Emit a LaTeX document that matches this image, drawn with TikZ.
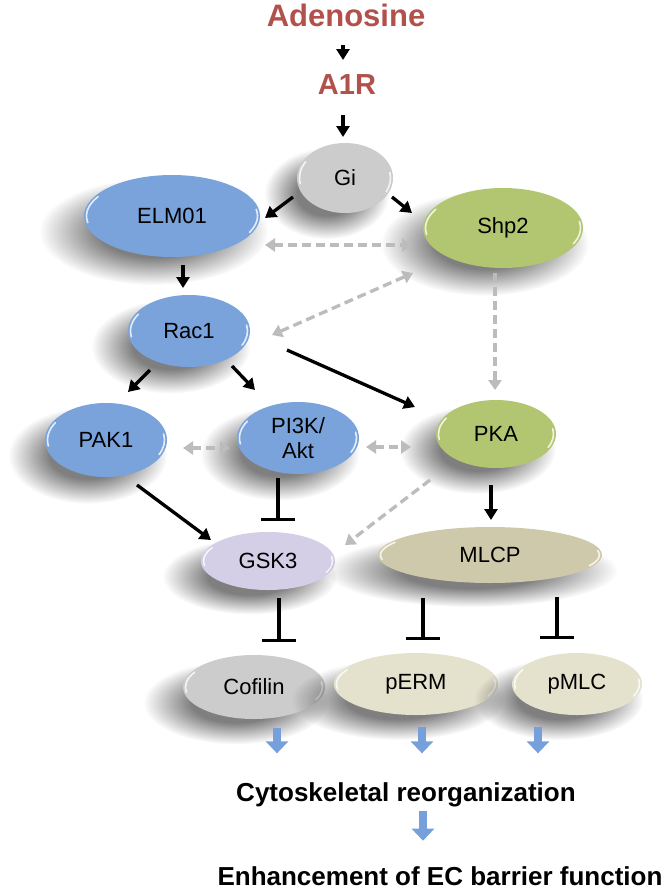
\documentclass[tikz,border=0pt]{standalone}
\usepackage{fontspec}
\setmainfont{Liberation Sans}
\usetikzlibrary{shapes.geometric, arrows.meta, shadows, fadings, calc}
\definecolor{adred}{RGB}{178,80,76}
\definecolor{nblue}{RGB}{122,163,220}
\definecolor{ngray}{RGB}{204,204,204}
\definecolor{ngreen}{RGB}{178,197,112}
\definecolor{nlav}{RGB}{212,206,230}
\definecolor{nkhaki}{RGB}{206,201,170}
\definecolor{ncream}{RGB}{228,225,205}
\definecolor{dgray}{RGB}{188,188,188}
\definecolor{barblue}{RGB}{118,160,220}
\pgfdeclareradialshading{softshd}{\pgfpointorigin}{color(0bp)=(pgftransparent!0); color(12bp)=(pgftransparent!0); color(25bp)=(pgftransparent!100); color(50bp)=(pgftransparent!100)}
\pgfdeclarefading{softfade}{\pgfuseshading{softshd}}
\begin{document}
\begin{tikzpicture}[x=1pt, y=-1pt,
  softshadow/.style={general shadow={shadow xshift=-14pt, shadow yshift=-12pt,
    shadow scale=1.3, fill=black, opacity=0.5, path fading=softfade, fit fading=true}},
  gloss/.style={path picture={
    \draw[white, line width=1.6pt, opacity=.8, line cap=round]
      let \p1=(path picture bounding box.north east), \p2=(path picture bounding box.south west),
          \n1={(\x1-\x2)/2-2.5pt}, \n2={(\y1-\y2)/2-2.5pt} in
      (path picture bounding box.center) ++(150:\n1 and \n2)
        arc[start angle=150, end angle=190, x radius=\n1, y radius=\n2]
      (path picture bounding box.center) ++(-25:\n1 and \n2)
        arc[start angle=-25, end angle=10, x radius=\n1, y radius=\n2];}},
  enode/.style={ellipse, inner sep=0pt, softshadow, gloss, text=black,
    font=\fontsize{22}{26}\selectfont, align=center},
  arr/.style={line width=3.3pt, black, -{Triangle[length=11pt,width=13pt]}},
  darr/.style={line width=3.3pt, dgray, dash pattern=on 9pt off 5pt, -{Triangle[length=10pt,width=13pt]}},
  ddarr/.style={line width=3.3pt, dgray, dash pattern=on 9pt off 5pt, {Triangle[length=10pt,width=13pt]}-{Triangle[length=10pt,width=13pt]}},
  tbar/.style={line width=3.4pt, black, -{Bar[width=34pt]}},
  barr/.style={line width=8pt, barblue, -{Triangle[length=12pt,width=22pt]}},
  title/.style={font=\fontsize{26}{26}\selectfont\bfseries, text=black, anchor=base, inner sep=0pt}
]
\useasboundingbox[fill=white] (0,0) rectangle (666,892);

% texts
\node[font=\fontsize{31}{31}\selectfont\bfseries, text=adred, inner sep=0pt] (aden) at (346,15) {Adenosine};
\node[font=\fontsize{29}{29}\selectfont\bfseries, text=adred, inner sep=0pt] (a1r) at (347,85) {A1R};

% nodes
\node[enode, fill=ngray, minimum width=96pt, minimum height=70pt] (gi) at (345,178) {Gi};
\node[enode, fill=nblue, minimum width=176pt, minimum height=82pt] (elm) at (172,216) {ELM01};
\node[enode, fill=ngreen, minimum width=160pt, minimum height=80pt] (shp) at (503,228) {Shp2};
\node[enode, fill=nblue, minimum width=122pt, minimum height=72pt] (rac) at (189,331) {Rac1};
\node[enode, fill=nblue, minimum width=122pt, minimum height=74pt] (pak) at (106,440) {PAK1};
\node[enode, fill=nblue, minimum width=122pt, minimum height=72pt] (pi3k) at (298,438) {PI3K/\\[-1pt]Akt};
\node[enode, fill=ngreen, minimum width=120pt, minimum height=68pt] (pka) at (496,434) {PKA};
\node[enode, fill=nlav, minimum width=134pt, minimum height=58pt] (gsk) at (268,561) {GSK3};
\node[enode, fill=nkhaki, minimum width=224pt, minimum height=56pt] (mlcp) at (490,555) {MLCP};
\node[enode, fill=ngray, minimum width=142pt, minimum height=64pt] (cof) at (254,687) {Cofilin};
\node[enode, fill=ncream, minimum width=164pt, minimum height=62pt] (perm) at (416,684) {pERM};
\node[enode, fill=ncream, minimum width=130pt, minimum height=62pt] (pmlc) at (577,684) {pMLC};

\node[title] (cyto) at (406,801) {Cytoskeletal reorganization};
\node[title] (enh) at (440,885) {Enhancement of EC barrier function};

% black arrows
\draw[arr] ($(aden)+(-3,30)$) -- ($(a1r)+(-4,-25)$);
\draw[arr] ($(a1r)+(-4,30)$) -- ($(gi)+(-2,-41)$);
\draw[arr] ($(gi)+(-52,19)$) -- ($(elm)+(93,2)$);
\draw[arr] ($(gi)+(47,19)$) -- ($(shp)+(-91,-15)$);
\draw[arr] ($(elm)+(11,49)$) -- ($(rac)+(-6,-43)$);
\draw[arr] ($(rac)+(-39,39)$) -- ($(pak)+(22,-48)$);
\draw[arr] ($(rac)+(43,35)$) -- ($(pi3k)+(-43,-48)$);
\draw[arr] ($(rac)+(98,19)$) -- ($(pka)+(-81,-27)$);
\draw[arr] ($(pak)+(31,45)$) -- ($(gsk)+(-57,-21)$);
\draw[arr] ($(pka)+(-5,51)$) -- ($(mlcp)+(1,-35)$);

% dashed grey arrows
\draw[ddarr] ($(elm)+(93,29)$) -- ($(shp)+(-91,17)$);
\draw[ddarr] ($(rac)+(83,4)$) -- ($(shp)+(-90,45)$);
\draw[darr] ($(shp)+(-8,45)$) -- ($(pka)+(-1,-44)$);
\draw[ddarr] ($(pak)+(77,8)$) -- ($(pi3k)+(-68,10)$);
\draw[ddarr] ($(pi3k)+(68,9)$) -- ($(pka)+(-85,13)$);
\draw[darr] ($(pka)+(-66,46)$) -- ($(gsk)+(77,-16)$);

% inhibition bars
\draw[tbar] ($(pi3k)+(-20,40)$) -- ($(gsk)+(10,-40)$);
\draw[tbar] ($(gsk)+(11,37)$) -- ($(cof)+(25,-45)$);
\draw[tbar] ($(mlcp)+(-67,43)$) -- ($(perm)+(7,-44)$);
\draw[tbar] ($(mlcp)+(67,42)$) -- ($(pmlc)+(-20,-45)$);

% blue arrows
\draw[barr] ($(cof)+(23,41)$) -- ($(cyto)+(-129,-41)$);
\draw[barr] ($(perm)+(6,43)$) -- ($(cyto)+(16,-41)$);
\draw[barr] ($(pmlc)+(-39,43)$) -- ($(cyto)+(132,-41)$);
\draw[barr] ($(cyto)+(17,17)$) -- ($(enh)+(-17,-35)$);
\end{tikzpicture}
\end{document}
